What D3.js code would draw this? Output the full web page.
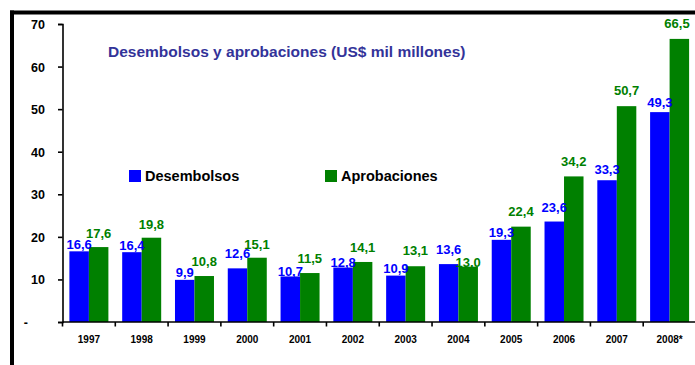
<!DOCTYPE html>
<html>
<head>
<meta charset="utf-8">
<script src="https://cdn.jsdelivr.net/npm/d3@7"></script>
<style>
  html, body { margin: 0; padding: 0; background: #fff; }
  svg { display: block; font-family: "Liberation Sans", Arial, sans-serif; }
</style>
</head>
<body>
<svg id="chart" width="695" height="365"></svg>
<script>
// Years on the category axis
const years = ["1997", "1998", "1999", "2000", "2001", "2002", "2003", "2004", "2005", "2006", "2007", "2008*"];
// Disbursements (US$ billions)
const desembolsos = [16.6, 16.4, 9.9, 12.6, 10.7, 12.8, 10.9, 13.6, 19.3, 23.6, 33.3, 49.3];
// Approvals (US$ billions)
const aprobaciones = [17.6, 19.8, 10.8, 15.1, 11.5, 14.1, 13.1, 13.0, 22.4, 34.2, 50.7, 66.5];
// Value-axis ticks
const yTicks = [0, 10, 20, 30, 40, 50, 60, 70];
const seriesNames = ["Desembolsos", "Aprobaciones"];

// Hand-placed label lifts above the bar tops (px), as laid out in the chart
const liftDes = [2, 2, 3, 10, 0.5, 1, 3, 10, 2.5, 10, 6, 5];
const liftApr = [9, 9, 10, 9, 10, 10, 11, 0, 11, 10, 11, 11];

const colors = { des: "#0000ff", apr: "#008000", title: "#333399" };

const svg = d3.select("#chart");

// Frame lines (top and left)
svg.append("line").attr("x1", 10).attr("x2", 695).attr("y1", 12.5).attr("y2", 12.5)
  .attr("stroke", "#000").attr("stroke-width", 4);
svg.append("line").attr("x1", 12).attr("x2", 12).attr("y1", 10.5).attr("y2", 365)
  .attr("stroke", "#000").attr("stroke-width", 4);

const plot = { left: 62.5, right: 696, top: 24, bottom: 322 };

const x = d3.scaleBand().domain(years).range([plot.left, plot.right]).padding(0);
const y = d3.scaleLinear().domain([0, 70]).range([plot.bottom, plot.top]);

const barW = 19.5;
const groupOffset = (x.bandwidth() - 2 * barW) / 2;

const fmt = v => d3.format(".1f")(v).replace(".", ",");

// Bars
const g = svg.append("g");
years.forEach((yr, i) => {
  const x0 = x(yr) + groupOffset;
  g.append("rect").attr("x", x0).attr("width", barW)
    .attr("y", y(desembolsos[i])).attr("height", y(0) - y(desembolsos[i]))
    .attr("fill", colors.des);
  g.append("rect").attr("x", x0 + barW).attr("width", barW)
    .attr("y", y(aprobaciones[i])).attr("height", y(0) - y(aprobaciones[i]))
    .attr("fill", colors.apr);
});

// Value labels
years.forEach((yr, i) => {
  const x0 = x(yr) + groupOffset;
  g.append("text").attr("x", x0 + barW / 2).attr("y", y(desembolsos[i]) - liftDes[i])
    .attr("text-anchor", "middle").attr("font-size", 13).attr("font-weight", "bold")
    .attr("fill", colors.des).text(fmt(desembolsos[i]));
  g.append("text").attr("x", Math.min(x0 + barW * 1.5, 677)).attr("y", y(aprobaciones[i]) - liftApr[i])
    .attr("text-anchor", "middle").attr("font-size", 13).attr("font-weight", "bold")
    .attr("fill", colors.apr).text(fmt(aprobaciones[i]));
});

// Y axis
const yAxis = svg.append("g").attr("transform", `translate(${plot.left},0)`)
  .call(d3.axisLeft(y).tickValues(yTicks).tickSize(4.5).tickPadding(13)
    .tickFormat(d => d === 0 ? "-" : d3.format("d")(d)));
yAxis.select(".domain").attr("stroke", "#000").attr("stroke-width", 1.6);
yAxis.selectAll(".tick line").attr("stroke", "#000").attr("stroke-width", 1.6);
yAxis.selectAll(".tick text").attr("font-size", 12.5).attr("font-weight", "bold")
  .attr("fill", "#000").attr("font-family", "Liberation Sans, Arial, sans-serif")
  .attr("dx", d => d === 0 ? -17 : 0).attr("dy", "0.36em");

// X axis with ticks at category boundaries
const xAxisG = svg.append("g").attr("transform", `translate(0,${plot.bottom})`);
xAxisG.append("line").attr("x1", plot.left).attr("x2", plot.right)
  .attr("stroke", "#000").attr("stroke-width", 1.6);
const bounds = years.map(yr => x(yr)).concat([x(years[years.length - 1]) + x.bandwidth()]);
xAxisG.selectAll("line.tk").data(bounds).enter().append("line").attr("class", "tk")
  .attr("x1", d => d).attr("x2", d => d).attr("y1", 0).attr("y2", 4.5)
  .attr("stroke", "#000").attr("stroke-width", 1.6);
xAxisG.selectAll("text").data(years).enter().append("text")
  .attr("x", d => x(d) + x.bandwidth() / 2).attr("y", 20.5)
  .attr("text-anchor", "middle").attr("font-size", 10).attr("font-weight", "bold")
  .attr("fill", "#000").text(d => d);

// Title
svg.append("text").attr("x", 108).attr("y", 56.5)
  .attr("font-size", 15.5).attr("font-weight", "bold").attr("fill", colors.title)
  .text("Desembolsos y aprobaciones (US$ mil millones)");

// Legend
const legendPos = [129, 325];
const legendColors = [colors.des, colors.apr];
seriesNames.forEach((name, i) => {
  svg.append("rect").attr("x", legendPos[i]).attr("y", 170).attr("width", 12).attr("height", 12)
    .attr("fill", legendColors[i]);
  svg.append("text").attr("x", legendPos[i] + 16).attr("y", 181)
    .attr("font-size", 14.5).attr("font-weight", "bold").attr("fill", "#000").text(name);
});
</script>
</body>
</html>
